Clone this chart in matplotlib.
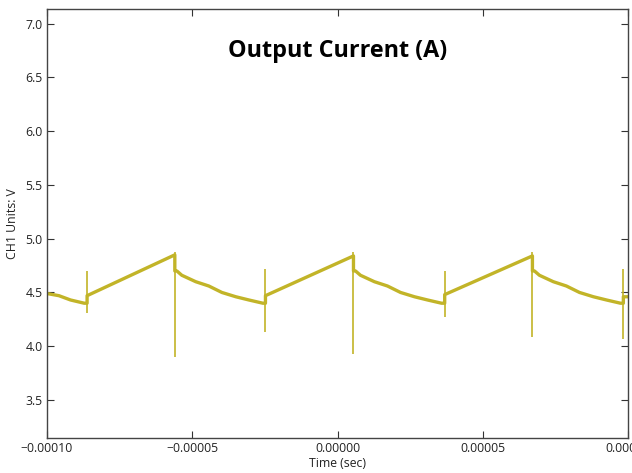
import numpy as np
import matplotlib
matplotlib.use("Agg")
import matplotlib.pyplot as plt
from matplotlib.ticker import FuncFormatter

# ---------------------------------------------------------------
# Data read from the scope capture (time in microseconds)
# ---------------------------------------------------------------
# smooth part of the waveform (spikes drawn separately)
body_t_us = [-100.0, -95.9, -91.9, -87.2, -86.2, -86.2,
             -56.0, -56.0, -55.3, -53.6, -48.8, -44.3, -39.8, -35.0, -30.5, -25.7, -24.8, -24.8,
             5.5, 5.5, 6.2, 7.9, 12.7, 17.2, 21.7, 26.5, 31.0, 35.8, 36.9, 36.9,
             67.1, 67.1, 67.8, 69.5, 74.3, 78.8, 83.3, 88.1, 92.6, 97.4, 98.4, 98.4, 100.0]
body_val = [4.49, 4.47, 4.43, 4.40, 4.40, 4.47,
            4.85, 4.70, 4.70, 4.66, 4.60, 4.56, 4.50, 4.46, 4.43, 4.40, 4.40, 4.47,
            4.84, 4.70, 4.70, 4.66, 4.60, 4.56, 4.50, 4.46, 4.43, 4.40, 4.40, 4.48,
            4.84, 4.70, 4.70, 4.66, 4.60, 4.56, 4.50, 4.46, 4.43, 4.40, 4.40, 4.46, 4.46]

# switching spikes
spike_t_us = [-86.2, -56.0, -24.8, 5.5, 36.9, 67.1, 98.4]
spike_top = [4.70, 4.88, 4.72, 4.88, 4.70, 4.88, 4.72]
spike_bottom = [4.31, 3.90, 4.13, 3.93, 4.27, 4.09, 4.07]

xticks = [-0.0001, -0.00005, 0.0, 0.00005, 0.0001]
yticks = [3.5, 4.0, 4.5, 5.0, 5.5, 6.0, 6.5, 7.0]

line_color = '#c2b428'

# ---------------------------------------------------------------
# Plot
# ---------------------------------------------------------------
plt.rcParams['font.family'] = ['Open Sans', 'DejaVu Sans']
plt.rcParams['xtick.direction'] = 'in'
plt.rcParams['ytick.direction'] = 'in'

fig = plt.figure(figsize=(6.32, 4.73), dpi=100)
ax = fig.add_axes([47 / 632, 35 / 473, 581 / 632, 429 / 473])

t_body = np.array(body_t_us) * 1e-6
t_spk = np.array(spike_t_us) * 1e-6

ax.plot(t_body, body_val, color=line_color, linewidth=2.4)
ax.vlines(t_spk, spike_bottom, spike_top, color=line_color, linewidth=1.2)

ax.set_xlim(-0.0001, 0.0001)
ax.set_ylim(3.146, 7.137)
ax.set_xticks(xticks)
ax.set_yticks(yticks)
ax.xaxis.set_major_formatter(FuncFormatter(lambda v, p: f'{v:.5f}'.replace('-', '\u2212')))
ax.yaxis.set_major_formatter(FuncFormatter(lambda v, p: f'{v:.1f}'))
ax.tick_params(axis='both', which='major', labelsize=8.8, length=5, width=0.8,
               top=True, right=True, colors='#333333', labelcolor='#222222', pad=3)
for s in ax.spines.values():
    s.set_color('#444444')
    s.set_linewidth(1.0)

ax.set_xlabel('Time (sec)', fontsize=8.8, labelpad=1, color='#222222')
ax.set_ylabel('CH1 Units: V', fontsize=8.8, labelpad=5, color='#222222')

ax.text(0.5, 0.902, 'Output Current (A)', transform=ax.transAxes,
        ha='center', va='center', fontsize=16.8, fontweight='bold', color='black')

fig.savefig('out.png', dpi=100)
